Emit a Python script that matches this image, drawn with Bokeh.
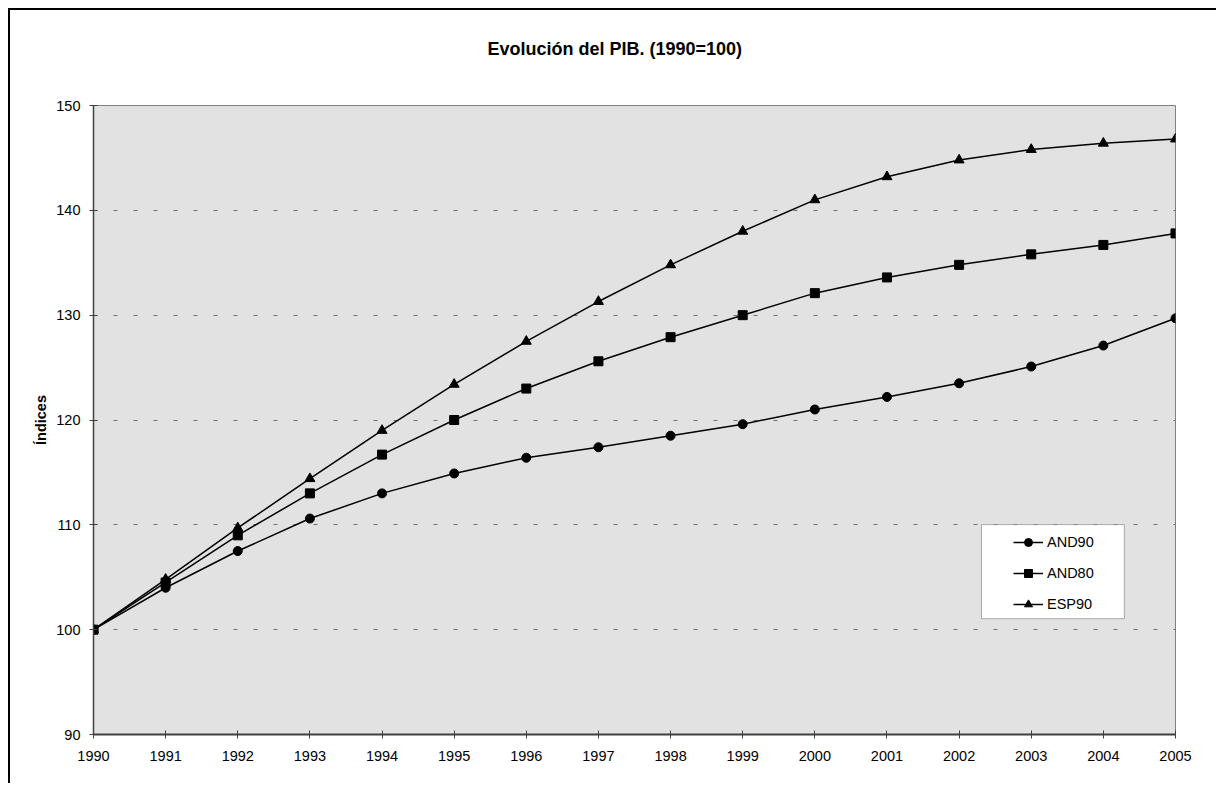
from bokeh.plotting import figure
from bokeh.models import Range1d, FixedTicker, Legend, LegendItem, BoxAnnotation, Title
from bokeh.embed import file_html
from bokeh.resources import INLINE

years = list(range(1990, 2006))
and90 = [100.0, 104.0, 107.5, 110.6, 113.0, 114.9, 116.4, 117.4, 118.5, 119.6,
         121.0, 122.2, 123.5, 125.1, 127.1, 129.7]
and80 = [100.0, 104.5, 109.0, 113.0, 116.7, 120.0, 123.0, 125.6, 127.9, 130.0,
         132.1, 133.6, 134.8, 135.8, 136.7, 137.8]
esp90 = [100.0, 104.8, 109.7, 114.4, 119.0, 123.4, 127.5, 131.3, 134.8, 138.0,
         141.0, 143.2, 144.8, 145.8, 146.4, 146.8]
y_ticks = [90, 100, 110, 120, 130, 140, 150]
title_text = "Evolución del PIB. (1990=100)"
y_label = "Índices"

FONT = "Liberation Sans"

p = figure(width=1208, height=775, output_backend="svg", toolbar_location=None,
           x_range=Range1d(1990, 2005), y_range=Range1d(90, 150),
           min_border_left=83, min_border_top=95, min_border_right=43,
           min_border_bottom=51,
           styles={"border-left": "2px solid black", "border-top": "2px solid black",
                   "margin-left": "8px", "margin-top": "8px"})

p.background_fill_color = "#e2e2e2"
p.border_fill_color = "white"
p.outline_line_color = "#808080"
p.outline_line_width = 1

# spacer between frame and title, then the title itself (stacked outward)
spacer = Title(text=" ", text_font=FONT, text_font_size="10px", standoff=29)
p.add_layout(spacer, "above")
main_title = Title(text=title_text, align="left", offset=394, standoff=10,
                   text_font=FONT, text_font_size="18px", text_font_style="bold",
                   text_color="black")
p.add_layout(main_title, "above")

# axes
p.xaxis.ticker = FixedTicker(ticks=years)
p.yaxis.ticker = FixedTicker(ticks=y_ticks)
for ax in (p.xaxis[0], p.yaxis[0]):
    ax.major_label_text_font = FONT
    ax.major_label_text_font_size = "14.5px"
    ax.major_label_text_color = "black"
    ax.major_tick_in = 4
    ax.major_tick_out = 4
    ax.major_tick_line_color = "#404040"
    ax.minor_tick_line_color = None
    ax.axis_line_color = "#404040"
p.xaxis.axis_line_width = 2
p.yaxis.axis_line_width = 1.5
p.xaxis.major_label_standoff = 12
p.yaxis.major_label_standoff = 9
p.yaxis.axis_label = y_label
p.yaxis.axis_label_text_font = FONT
p.yaxis.axis_label_text_font_style = "bold"
p.yaxis.axis_label_text_font_size = "14.5px"
p.yaxis.axis_label_text_color = "black"
p.yaxis.axis_label_standoff = 4

p.xgrid.grid_line_color = None
p.ygrid.grid_line_color = "#707070"
p.ygrid.grid_line_dash = "4 16"
p.ygrid.grid_line_width = 1

series = [("AND90", and90, "circle", 9), ("AND80", and80, "square", 9),
          ("ESP90", esp90, "triangle", 10)]
items = []
for name, vals, mk, sz in series:
    ln = p.line(years, vals, line_color="black", line_width=1.5)
    sc = p.scatter(years, vals, marker=mk, size=sz, fill_color="black", line_color="black")
    items.append(LegendItem(label=name, renderers=[ln, sc]))

box = BoxAnnotation(left=2002.31, right=2004.29, bottom=101.05, top=110.02,
                    fill_color="white", fill_alpha=1.0, line_color="black", line_width=1)
p.add_layout(box)

legend = Legend(items=items, location=(914, 114), padding=6, spacing=11,
                glyph_width=30, glyph_height=20, label_height=20, label_standoff=4,
                label_text_font=FONT, label_text_font_size="14.5px",
                label_text_color="black",
                background_fill_alpha=0, border_line_alpha=0)
p.add_layout(legend, "center")

open("out.html", "w").write(file_html(p, INLINE))
